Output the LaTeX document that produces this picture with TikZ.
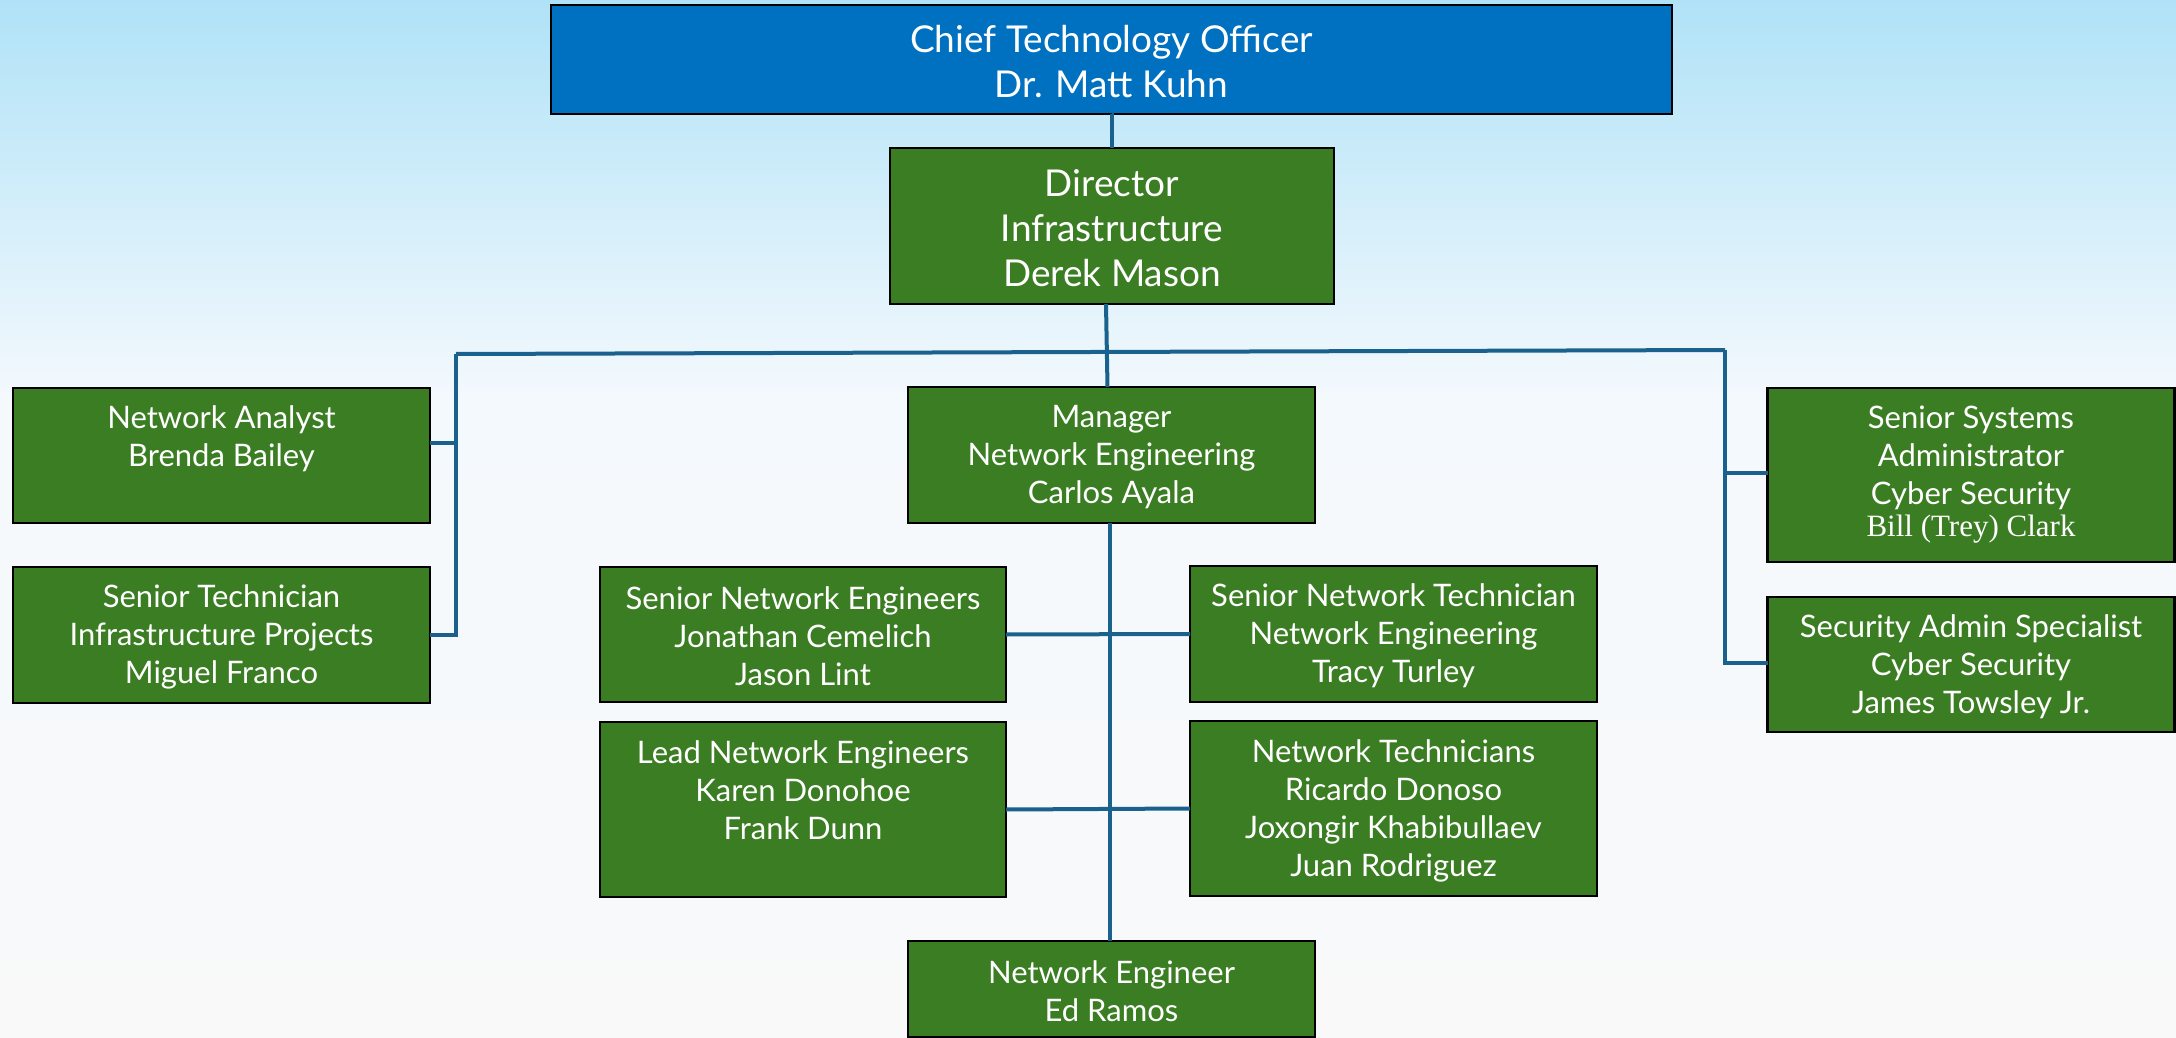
\documentclass[tikz,border=0pt]{standalone}
\usepackage{fontspec}
\setmainfont{Lato}
\newfontfamily\serifname{Liberation Serif}
\definecolor{boxgreen}{HTML}{3B7D23}
\definecolor{ctoblue}{HTML}{0070C0}
\definecolor{linecol}{HTML}{1A628D}
\definecolor{bgtop}{HTML}{B0E2F7}
\definecolor{bgmid}{HTML}{F4F9FD}
\definecolor{bgbot}{HTML}{F9F9F9}
\newcommand\fl{\rule{0pt}{0.87em}}
\newcommand\el{\vphantom{g}}
\tikzset{
  x=0.5pt, y=-0.5pt,
  orgbox/.style={draw=black, line width=1.4pt, fill=boxgreen, text=white,
    align=center, inner sep=0pt, outer sep=0pt,
    font=\fontsize{15.5pt}{19pt}\selectfont},
  bigbox/.style={orgbox, font=\fontsize{18.5pt}{22.5pt}\selectfont},
  conn/.style={draw=linecol, line width=2pt},
}
\begin{document}
\begin{tikzpicture}
\useasboundingbox (0,0) rectangle (2176,1038);
\shade[top color=bgtop, bottom color=bgmid] (0,0) rectangle (2176,400);
\shade[top color=bgmid, bottom color=bgbot] (0,399) rectangle (2176,1038);

% nodes
\node[bigbox, fill=ctoblue, minimum width=560.5pt, minimum height=54.5pt] (cto) at (1111.5,59.5)
  {\fl Chief Technology Officer\\Dr. Matt Kuhn};
\node[bigbox, minimum width=222pt, minimum height=78pt] (dir) at (1112,226)
  {\fl Director\\Infrastructure\\Derek Mason};
\node[orgbox, minimum width=203.5pt, minimum height=68pt] (mgr) at (1111.5,455)
  {\fl Manager\\Network Engineering\\Carlos Ayala};
\node[orgbox, minimum width=208.5pt, minimum height=67.5pt] (na) at (221.5,455.5)
  {\fl Network Analyst\\Brenda Bailey\\\el};
\node[orgbox, minimum width=208.5pt, minimum height=68pt] (st) at (221.5,635)
  {\fl Senior Technician\\Infrastructure Projects\\Miguel Franco};
\node[orgbox, minimum width=203pt, minimum height=67.5pt] (sne) at (803,634.5)
  {\fl Senior Network Engineers\\Jonathan Cemelich\\Jason Lint};
\node[orgbox, minimum width=203.5pt, minimum height=68pt] (snt) at (1393.5,634)
  {\fl Senior Network Technician\\Network Engineering\\Tracy Turley};
\node[orgbox, minimum width=203pt, minimum height=87.5pt] (lne) at (803,809.5)
  {\fl Lead Network Engineers\\Karen Donohoe\\Frank Dunn\\\el};
\node[orgbox, minimum width=203.5pt, minimum height=87.5pt] (nt) at (1393.5,808.5)
  {\fl Network Technicians\\Ricardo Donoso\\Joxongir Khabibullaev\\Juan Rodriguez};
\node[orgbox, minimum width=203.5pt, minimum height=48pt] (ne) at (1111.5,989)
  {\fl Network Engineer\\Ed Ramos};
\node[orgbox, minimum width=203.5pt, minimum height=87pt] (ssa) at (1971,475)
  {Senior Systems\\Administrator\\Cyber Security\\[-3pt]{\serifname Bill (Trey) Clark}};
\node[orgbox, minimum width=203.5pt, minimum height=67.5pt] (sas) at (1971,664.5)
  {\fl Security Admin Specialist\\Cyber Security\\James Towsley Jr.};

% connectors
\coordinate (bl) at (456,354);
\coordinate (br) at (1725,350);
\coordinate (nac) at ([yshift=6.5pt]na.east);
\coordinate (ssac) at ([yshift=1pt]ssa.west);
\coordinate (sasc) at ([yshift=0.75pt]sas.west);

\draw[conn] (cto.south) -- (dir.south |- cto.south) -- (dir.north);
\draw[conn] ([xshift=-3pt]dir.south) -- ([xshift=-2pt]mgr.north);
\draw[conn] (bl) -- (br);
\draw[conn] (bl) |- (st.east);
\draw[conn] (nac) -- (nac -| bl);
\draw[conn] (br) |- (sasc);
\draw[conn] (ssac) -- (ssac -| br);
\draw[conn] ([xshift=-0.75pt]mgr.south) -- ([xshift=-0.75pt]ne.north);
\draw[conn] (sne.east) -- (snt.west);
\draw[conn] (lne.east) -- (nt.west);
\end{tikzpicture}
\end{document}
